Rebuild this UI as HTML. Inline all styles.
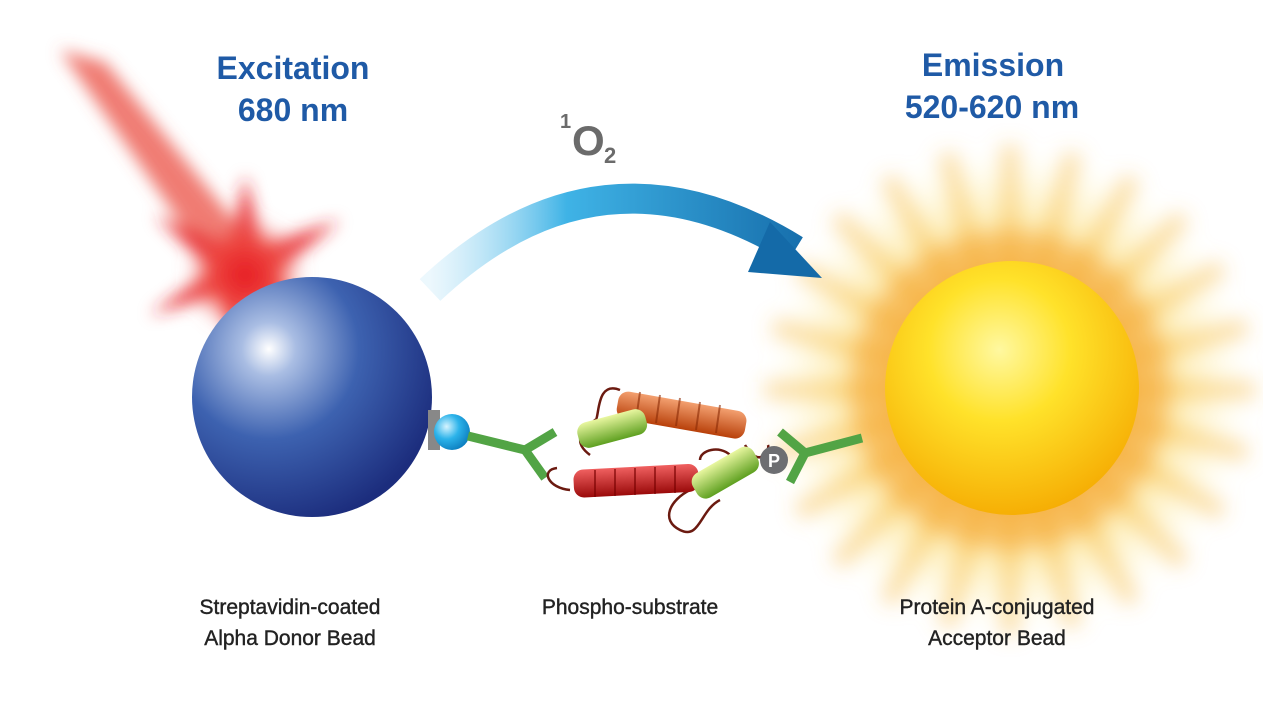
<!DOCTYPE html>
<html><head><meta charset="utf-8"><style>
html,body{margin:0;padding:0;background:#fff;}
svg{display:block;}
text{font-family:"Liberation Sans",Arial,sans-serif;}
</style></head><body>
<svg width="1263" height="713" viewBox="0 0 1263 713" xmlns="http://www.w3.org/2000/svg">
<defs>
<radialGradient id="blue" cx="0.32" cy="0.3" r="0.75">
<stop offset="0" stop-color="#ffffff"/><stop offset="0.15" stop-color="#a9bde3"/><stop offset="0.5" stop-color="#3d62b0"/><stop offset="1" stop-color="#1c2d7d"/>
</radialGradient>
<radialGradient id="yel" cx="0.45" cy="0.35" r="0.7">
<stop offset="0" stop-color="#fff8a0"/><stop offset="0.4" stop-color="#ffe22a"/><stop offset="1" stop-color="#f5a800"/>
</radialGradient>
<radialGradient id="glow" cx="0.5" cy="0.5" r="0.5">
<stop offset="0.45" stop-color="#f7b040" stop-opacity="0.8"/><stop offset="0.7" stop-color="#fbd860" stop-opacity="0.45"/><stop offset="1" stop-color="#fff4a0" stop-opacity="0"/>
</radialGradient>
<radialGradient id="redg" cx="0.5" cy="0.5" r="0.5">
<stop offset="0.2" stop-color="#e8262a"/><stop offset="0.6" stop-color="#ef4a40" stop-opacity="0.7"/><stop offset="1" stop-color="#f08080" stop-opacity="0"/>
</radialGradient>
<radialGradient id="cyan" cx="0.35" cy="0.35" r="0.7">
<stop offset="0" stop-color="#d6f4ff"/><stop offset="0.5" stop-color="#2cb3ea"/><stop offset="1" stop-color="#0d7fc0"/>
</radialGradient>
<linearGradient id="arr" x1="430" y1="0" x2="820" y2="0" gradientUnits="userSpaceOnUse">
<stop offset="0" stop-color="#bfe6f8" stop-opacity="0.3"/><stop offset="0.35" stop-color="#3fb3e6"/><stop offset="1" stop-color="#146aa8"/>
</linearGradient>
<filter id="blur8" x="-50%" y="-50%" width="200%" height="200%"><feGaussianBlur stdDeviation="8"/></filter>
<filter id="blur10" x="-50%" y="-50%" width="200%" height="200%"><feGaussianBlur stdDeviation="10"/></filter>
<linearGradient id="helO" x1="0" y1="0" x2="0" y2="1"><stop offset="0" stop-color="#f3a070"/><stop offset="1" stop-color="#b8400a"/></linearGradient>
<linearGradient id="helR" x1="0" y1="0" x2="0" y2="1"><stop offset="0" stop-color="#f06060"/><stop offset="1" stop-color="#9a0a0a"/></linearGradient>
<linearGradient id="helG" x1="0" y1="0" x2="0" y2="1"><stop offset="0" stop-color="#e9f7a0"/><stop offset="1" stop-color="#5ea020"/></linearGradient>
</defs>

<g filter="url(#blur8)">
<polygon points="60,50 105,62 250,240 210,265" fill="#ec5b50" opacity="0.8"/>
<g transform="translate(245,270)" fill="#e8262a" opacity="0.85">
<polygon points="0,-95 18,-25 95,-50 30,5 85,70 5,30 -10,90 -25,25 -95,45 -35,0 -90,-55 -15,-25"/>
</g>
<circle cx="245" cy="275" r="60" fill="url(#redg)"/>
</g>

<g filter="url(#blur10)" transform="translate(1010,390)">
<circle r="240" fill="url(#glow)"/>
<g fill="#f6b840" opacity="0.45">
<rect x="-9" y="-245" width="18" height="490" transform="rotate(0)"/>
<rect x="-9" y="-245" width="18" height="490" transform="rotate(15)"/>
<rect x="-9" y="-245" width="18" height="490" transform="rotate(30)"/>
<rect x="-9" y="-245" width="18" height="490" transform="rotate(45)"/>
<rect x="-9" y="-245" width="18" height="490" transform="rotate(60)"/>
<rect x="-9" y="-245" width="18" height="490" transform="rotate(75)"/>
<rect x="-9" y="-245" width="18" height="490" transform="rotate(90)"/>
<rect x="-9" y="-245" width="18" height="490" transform="rotate(105)"/>
<rect x="-9" y="-245" width="18" height="490" transform="rotate(120)"/>
<rect x="-9" y="-245" width="18" height="490" transform="rotate(135)"/>
<rect x="-9" y="-245" width="18" height="490" transform="rotate(150)"/>
<rect x="-9" y="-245" width="18" height="490" transform="rotate(165)"/>
</g>
<circle r="160" fill="#f5a028" opacity="0.45"/>
</g>

<path d="M430,290 Q600,130 795,250" fill="none" stroke="url(#arr)" stroke-width="30"/>
<polygon points="770,222 822,278 748,272" fill="#146aa8"/>

<g fill="#1f5aa6" font-weight="bold" font-size="32" text-anchor="middle">
<text x="293" y="79">Excitation</text>
<text x="293" y="121">680 nm</text>
<text x="993" y="76">Emission</text>
<text x="992" y="118">520-620 nm</text>
</g>
<text x="560" y="128" font-size="20" fill="#6b6b6b" font-weight="bold">1</text>
<text x="572" y="155" font-size="42" fill="#6b6b6b" font-weight="bold">O</text>
<text x="604" y="163" font-size="22" fill="#6b6b6b" font-weight="bold">2</text>

<circle cx="312" cy="397" r="120" fill="url(#blue)"/>
<circle cx="1012" cy="388" r="127" fill="url(#yel)"/>

<path d="M428,410 L440,410 L440,450 L428,450 Z" fill="#888"/>
<circle cx="452" cy="432" r="18" fill="url(#cyan)"/>
<g stroke="#52a445" stroke-width="9" fill="none">
<line x1="468" y1="436" x2="525" y2="450"/>
<line x1="525" y1="450" x2="555" y2="432"/>
<line x1="525" y1="450" x2="545" y2="478"/>
</g>

<path d="M880,410 A20,20 0 1,0 880,460 A14,14 0 0,1 880,410 Z" fill="#1b8fd0"/>
<g stroke="#52a445" stroke-width="9" fill="none">
<line x1="862" y1="438" x2="805" y2="453"/>
<line x1="805" y1="453" x2="780" y2="432"/>
<line x1="805" y1="453" x2="790" y2="482"/>
</g>

<g stroke="#6b1a10" stroke-width="2.5" fill="none">
<path d="M620,390 C595,380 600,420 595,420 C585,430 570,440 590,455"/>
<path d="M557,468 C540,470 548,488 570,490"/>
<path d="M690,490 C670,500 660,520 680,530 C700,540 700,510 720,500"/>
<path d="M745,445 C760,470 770,450 768,445"/>
<path d="M700,460 C700,450 720,445 730,455"/>
</g>
<g>
<rect x="620" y="390" width="130" height="28" rx="10" fill="url(#helO)" transform="rotate(10 620 390)"/>
<g stroke="#8a2a05" stroke-width="2" opacity="0.6">
<line x1="640" y1="392" x2="636" y2="420"/><line x1="660" y1="395" x2="656" y2="423"/><line x1="680" y1="398" x2="676" y2="426"/><line x1="700" y1="402" x2="696" y2="430"/><line x1="720" y1="405" x2="716" y2="433"/>
</g>
<rect x="575" y="425" width="70" height="26" rx="10" fill="url(#helG)" transform="rotate(-15 575 425)"/>
<rect x="573" y="470" width="125" height="28" rx="10" fill="url(#helR)" transform="rotate(-3 573 470)"/>
<g stroke="#700" stroke-width="2" opacity="0.6">
<line x1="595" y1="470" x2="595" y2="497"/><line x1="615" y1="469" x2="615" y2="496"/><line x1="635" y1="468" x2="635" y2="495"/><line x1="655" y1="467" x2="655" y2="494"/><line x1="675" y1="466" x2="675" y2="493"/>
</g>
<rect x="688" y="478" width="70" height="28" rx="10" fill="url(#helG)" transform="rotate(-30 688 478)"/>
</g>
<circle cx="774" cy="460" r="14" fill="#6d6e71"/>
<text x="774" y="467" font-size="18" font-weight="bold" fill="#fff" text-anchor="middle">P</text>

<g fill="#222" font-size="21" text-anchor="middle" stroke="#222" stroke-width="0.4">
<text x="290" y="614">Streptavidin-coated</text>
<text x="290" y="645">Alpha Donor Bead</text>
<text x="630" y="614">Phospho-substrate</text>
<text x="997" y="614">Protein A-conjugated</text>
<text x="997" y="645">Acceptor Bead</text>
</g>
</svg>
</body></html>
